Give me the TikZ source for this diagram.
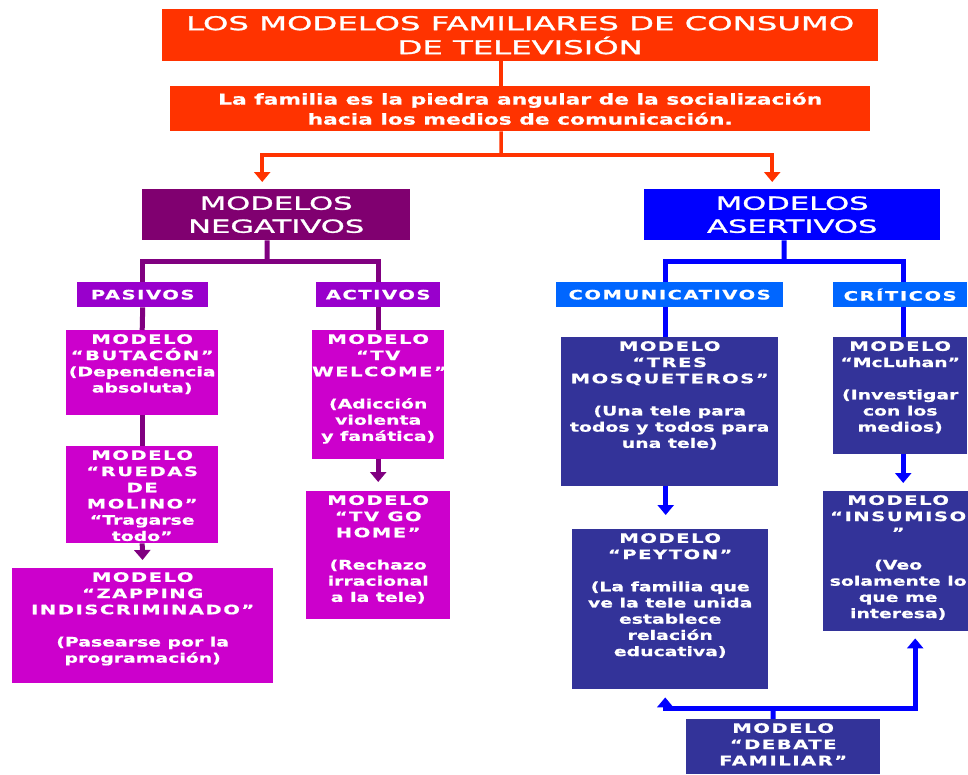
\documentclass[tikz,border=0pt]{standalone}
\usepackage{fontspec}
\usetikzlibrary{arrows.meta}
\newfontfamily\titlefont[FakeStretch=1.7,FakeBold=1.5]{DejaVu Sans}
\newfontfamily\boxfont[FakeStretch=1.45,FakeBold=0.8]{DejaVu Sans Bold}
\newfontfamily\capsfont[FakeStretch=1.5,FakeBold=0.8,LetterSpace=12]{DejaVu Sans Bold}
\definecolor{redcol}{HTML}{FF3300}
\definecolor{negcol}{HTML}{800070}
\definecolor{pascol}{HTML}{9900CC}
\definecolor{magcol}{HTML}{CC00CC}
\definecolor{purpcol}{HTML}{800080}
\definecolor{asecol}{HTML}{0000FF}
\definecolor{comcol}{HTML}{0066FF}
\definecolor{navycol}{HTML}{333399}
\definecolor{bluecol}{HTML}{0000FF}

\begin{document}
\begin{tikzpicture}[x=1pt,y=-1pt,
	>={Triangle[width=16pt,length=10pt]},
	redline/.style={draw=redcol, line width=3.5pt},
	purpline/.style={draw=purpcol, line width=5pt},
	blueline/.style={draw=bluecol, line width=5pt},
	headbox/.style={anchor=north west, inner sep=0pt, text=white, align=center},
	modelbox/.style={anchor=north west, inner sep=0pt, text=white, font=\boxfont\fontsize{13}{16.2}\selectfont},
	tagbox/.style={headbox, minimum height=25pt, font=\capsfont\fontsize{13}{14}\selectfont}]
	\useasboundingbox[fill=white] (0,0) rectangle (968,774);
	
	% Draw title boxes
	\node[headbox, fill=redcol, minimum width=716pt, minimum height=52pt, font=\titlefont\fontsize{19}{24}\selectfont] (tit) at (162,9) {LOS MODELOS FAMILIARES DE CONSUMO\\DE TELEVISIÓN};
	\node[headbox, fill=redcol, minimum width=700pt, minimum height=45pt, font=\boxfont\fontsize{15}{20}\selectfont] (sub) at (170,86) {La familia es la piedra angular de la socialización\\hacia los medios de comunicación.};
	
	% Draw the two main models
	\node[headbox, fill=negcol, minimum width=268pt, minimum height=51pt, font=\titlefont\fontsize{18}{23}\selectfont] (neg) at (142,189) {MODELOS\\NEGATIVOS};
	\node[headbox, fill=asecol, minimum width=296pt, minimum height=51pt, font=\titlefont\fontsize{18}{23}\selectfont] (ase) at (644,189) {MODELOS\\ASERTIVOS};
	
	% Draw the four groups
	\node[tagbox, fill=pascol, minimum width=131pt] (pas) at (77,282) {PASIVOS};
	\node[tagbox, fill=pascol, minimum width=124pt] (act) at (316,282) {ACTIVOS};
	\node[tagbox, fill=comcol, minimum width=227pt] (com) at (556,282) {COMUNICATIVOS};
	\node[tagbox, fill=comcol, minimum width=134pt] (cri) at (833,282) {CRÍTICOS};
	
	% Draw negative models
	\node[modelbox, fill=magcol] (but) at (66,330) {\parbox[t][85pt][t]{152pt}{\centering\vspace*{4pt}{\capsfont MODELO\\“BUTACÓN”}\\(Dependencia\\absoluta)}};
	\node[modelbox, fill=magcol] (rue) at (66,446) {\parbox[t][97pt][t]{152pt}{\centering\vspace*{4pt}{\capsfont MODELO\\“RUEDAS\\DE\\MOLINO”}\\“Tragarse\\todo”}};
	\node[modelbox, fill=magcol] (zap) at (12,568) {\parbox[t][115pt][t]{261pt}{\centering\vspace*{4pt}{\capsfont MODELO\\“ZAPPING\\INDISCRIMINADO”}\\[16pt](Pasearse por la\\programación)}};
	\node[modelbox, fill=magcol] (wel) at (312,330) {\parbox[t][129pt][t]{132pt}{\centering\vspace*{4pt}{\capsfont MODELO\\“TV\\WELCOME”}\\[16pt](Adicción\\violenta\\y fanática)}};
	\node[modelbox, fill=magcol] (goh) at (306,491) {\parbox[t][128pt][t]{144pt}{\centering\vspace*{4pt}{\capsfont MODELO\\“TV GO\\HOME”}\\[16pt](Rechazo\\irracional\\a la tele)}};
	
	% Draw assertive models
	\node[modelbox, fill=navycol] (tre) at (561,337) {\parbox[t][149pt][t]{217pt}{\centering\vspace*{4pt}{\capsfont MODELO\\“TRES\\MOSQUETEROS”}\\[16pt](Una tele para\\todos y todos para\\una tele)}};
	\node[modelbox, fill=navycol] (mcl) at (833,337) {\parbox[t][117pt][t]{134pt}{\centering\vspace*{4pt}{\capsfont MODELO}\\“McLuhan”\\[16pt](Investigar\\con los\\medios)}};
	\node[modelbox, fill=navycol] (pey) at (572,529) {\parbox[t][160pt][t]{196pt}{\centering\vspace*{4pt}{\capsfont MODELO\\“PEYTON”}\\[16pt](La familia que\\ve la tele unida\\establece\\relación\\educativa)}};
	\node[modelbox, fill=navycol] (ins) at (823,491) {\parbox[t][140pt][t]{150pt}{\centering\vspace*{4pt}{\capsfont MODELO\\“INSUMISO\\”}\\[16pt](Veo\\solamente lo\\que me\\interesa)}};
	\node[modelbox, fill=navycol] (deb) at (686,719) {\parbox[t][55pt][t]{194pt}{\centering\vspace*{4pt}{\capsfont MODELO\\“DEBATE\\FAMILIAR”}}};
	
	% Draw split points
	\coordinate (split) at (501,155);
	\coordinate (negsplit) at (267,261);
	\coordinate (asesplit) at (784,261);
	\coordinate (debsplit) at (773,708);
	
	% Draw red connectors
	\draw[redline] ([xshift=-19pt]tit.south) -- ([xshift=-19pt]sub.north);
	\draw[redline] ([xshift=-19pt]sub.south) -- (split);
	\draw[redline, ->, shorten >=7pt] (split) -| ([xshift=-14pt]neg.north);
	\draw[redline, ->, shorten >=7pt] (split) -| ([xshift=-20pt]ase.north);
	
	% Draw purple connectors
	\draw[purpline] ([xshift=-9pt]neg.south) -- (negsplit);
	\draw[purpline] (negsplit) -| (pas.north);
	\draw[purpline] (negsplit) -| (act.north);
	\draw[purpline] (pas.south) -- (but.north);
	\draw[purpline] (but.south) -- (rue.north);
	\draw[purpline, ->, shorten >=8pt] (rue.south) -- (zap.north);
	\draw[purpline] (act.south) -- (wel.north);
	\draw[purpline, ->, shorten >=9pt] (wel.south) -- (goh.north);
	
	% Draw blue connectors
	\draw[blueline] ([xshift=-8pt]ase.south) -- (asesplit);
	\draw[blueline] (asesplit) -| ([xshift=-4pt]com.north);
	\draw[blueline] (asesplit) -| ([xshift=3pt]cri.north);
	\draw[blueline] ([xshift=-4pt]com.south) -- ([xshift=-4pt]tre.north);
	\draw[blueline, ->, shorten >=14pt] ([xshift=-4pt]tre.south) -- ([xshift=-4pt]tre.south |- pey.north);
	\draw[blueline] ([xshift=3pt]cri.south) -- ([xshift=3pt]mcl.north);
	\draw[blueline, ->, shorten >=8pt] ([xshift=3pt]mcl.south) -- ([xshift=3pt]mcl.south |- ins.north);
	\draw[blueline] ([xshift=-10pt]deb.north) -- (debsplit);
	\draw[blueline, ->, shorten >=8pt] (debsplit) -| ([xshift=-5pt]pey.south);
	\draw[blueline, ->, shorten >=7pt] (debsplit) -| ([xshift=17pt]ins.south);
\end{tikzpicture}
\end{document}
